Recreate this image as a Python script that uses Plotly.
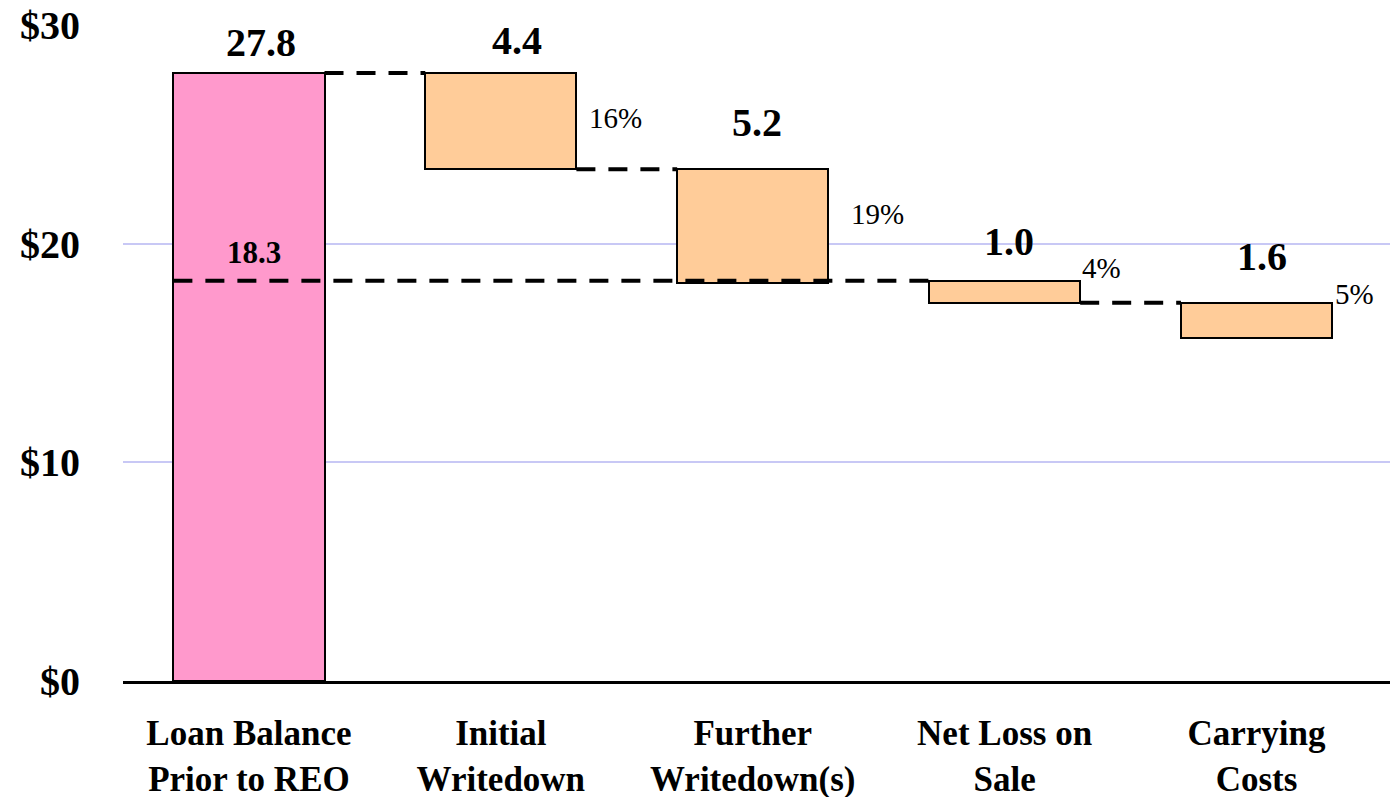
import plotly.graph_objects as go

# Loss components on a REO resolution ($)
categories = [
    "Loan Balance<br>Prior to REO",
    "Initial<br>Writedown",
    "Further<br>Writedown(s)",
    "Net Loss on<br>Sale",
    "Carrying<br>Costs",
]
amounts = [27.8, 4.4, 5.2, 1.0, 1.6]
shares = ["", "16%", "19%", "4%", "5%"]
balance_after_writedowns = 18.3
y_ticks = [0, 10, 20, 30]
y_tick_labels = ["$0", "$10", "$20", "$30"]

# Build the waterfall: first bar is the starting balance, the rest step down.
# The sale loss is measured from the reported post-writedown balance.
tops, bases = [amounts[0]], [0.0]
level = amounts[0]
for i, amt in enumerate(amounts[1:], start=1):
    if i == 3:
        level = balance_after_writedowns
    tops.append(round(level, 2))
    level = round(level - amt, 2)
    bases.append(level)

idx = list(range(len(categories)))
heights = [t - b for t, b in zip(tops, bases)]
colors = ["#FF99CC"] + ["#FFCC99"] * (len(categories) - 1)
half_w = 0.3

fig = go.Figure(
    go.Bar(
        x=idx,
        y=heights,
        base=bases,
        width=2 * half_w,
        marker=dict(color=colors, line=dict(color="black", width=2)),
        hoverinfo="skip",
    )
)

dash_style = dict(color="black", width=4, dash="19px,13px")
connectors = [
    (0 + half_w, 1 - half_w, tops[1]),
    (1 + half_w, 2 - half_w, tops[2]),
    (0 - half_w, 3 - half_w, balance_after_writedowns),
    (3 + half_w, 4 - half_w, tops[4]),
]
for x0, x1, yv in connectors:
    fig.add_shape(type="line", xref="x", yref="y", x0=x0, x1=x1, y0=yv, y1=yv,
                  line=dash_style, layer="above")

serif = "Liberation Serif"

# Amount labels above each bar
value_dx = [12, 16, 4, 4, 5]
value_dy = [31, 33, 47, 39, 46]
for i, amt in enumerate(amounts):
    fig.add_annotation(x=i, y=tops[i], text=f"<b>{amt:.1f}</b>", showarrow=False,
                       xshift=value_dx[i], yshift=value_dy[i],
                       font=dict(family=serif, size=40, color="black"))

# Share of original balance beside each loss bar
share_dx = [0, 11, 21, 0, 1]
share_dy = [0, -45, -45, 13, 9]
for i in range(1, len(categories)):
    fig.add_annotation(x=i + half_w, y=tops[i], text=shares[i], showarrow=False,
                       xanchor="left", xshift=share_dx[i], yshift=share_dy[i],
                       font=dict(family=serif, size=29, color="black"))

fig.add_annotation(x=0, y=balance_after_writedowns, text=f"<b>{balance_after_writedowns:.1f}</b>",
                   showarrow=False, xshift=5, yshift=28,
                   font=dict(family=serif, size=31, color="black"))

fig.update_layout(
    width=1393,
    height=797,
    margin=dict(l=123, r=3, t=25, b=116),
    plot_bgcolor="white",
    paper_bgcolor="white",
    showlegend=False,
    bargap=0,
    xaxis=dict(
        range=[-0.5, 4.53],
        tickvals=idx,
        ticktext=[f"<b>{c}</b>".replace("<br>", "</b><br><b>") for c in categories],
        showline=True,
        linecolor="black",
        linewidth=3,
        showgrid=False,
        zeroline=False,
        ticks="",
        automargin=False,
        ticklabelstandoff=19,
        tickfont=dict(family=serif, size=35, color="black"),
        fixedrange=True,
    ),
    yaxis=dict(
        range=[0, 30],
        tickvals=y_ticks,
        ticktext=[f"<b>{t}</b>" for t in y_tick_labels],
        showgrid=True,
        gridcolor="#C8C8F5",
        gridwidth=2,
        zeroline=False,
        showline=False,
        ticks="",
        automargin=False,
        ticklabelstandoff=42,
        tickfont=dict(family=serif, size=40, color="black"),
        fixedrange=True,
    ),
)

fig.write_html("out.html")
